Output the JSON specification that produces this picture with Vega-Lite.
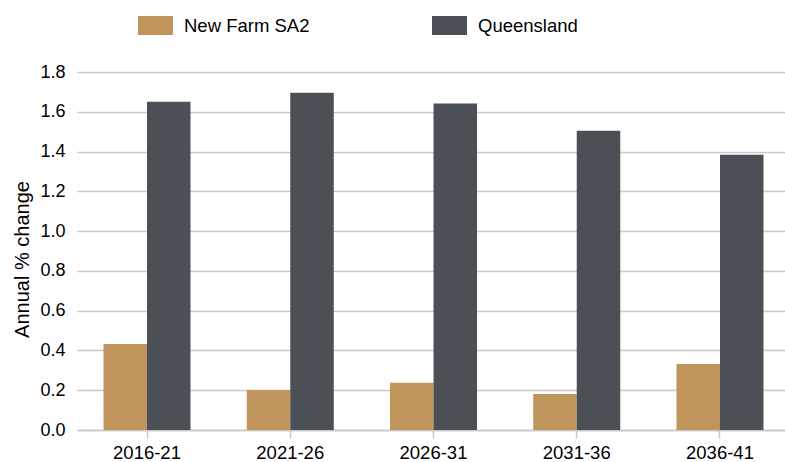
{
  "$schema": "https://vega.github.io/schema/vega-lite/v6.json",
  "autosize": "none",
  "padding": {"left": 77, "top": 72, "right": 0, "bottom": 32},
  "width": 713,
  "height": 358,
  "background": "white",
  "config": {
    "font": "Liberation Sans",
    "view": {"stroke": null}
  },
  "data": {
    "values": [
      {"period": "2016-21", "region": "New Farm SA2", "value": 0.433},
      {"period": "2016-21", "region": "Queensland", "value": 1.651},
      {"period": "2021-26", "region": "New Farm SA2", "value": 0.201},
      {"period": "2021-26", "region": "Queensland", "value": 1.696},
      {"period": "2026-31", "region": "New Farm SA2", "value": 0.237},
      {"period": "2026-31", "region": "Queensland", "value": 1.641},
      {"period": "2031-36", "region": "New Farm SA2", "value": 0.181},
      {"period": "2031-36", "region": "Queensland", "value": 1.505},
      {"period": "2036-41", "region": "New Farm SA2", "value": 0.332},
      {"period": "2036-41", "region": "Queensland", "value": 1.384}
    ]
  },
  "mark": {"type": "bar"},
  "encoding": {
    "x": {
      "field": "period",
      "type": "nominal",
      "sort": null,
      "scale": {"paddingInner": 0.3925, "paddingOuter": 0.185},
      "axis": {
        "title": null,
        "labelAngle": 0,
        "labelFontSize": 18.5,
        "labelColor": "#000000",
        "labelPadding": 5,
        "domainColor": "#C8C8C8",
        "domainWidth": 1.5,
        "tickColor": "#C8C8C8",
        "tickWidth": 1.5,
        "tickSize": 8,
        "grid": false
      }
    },
    "xOffset": {
      "field": "region",
      "type": "nominal",
      "scale": {"paddingInner": 0, "paddingOuter": 0}
    },
    "y": {
      "field": "value",
      "type": "quantitative",
      "scale": {"domain": [0, 1.8]},
      "axis": {
        "title": "Annual % change",
        "titleFontSize": 20,
        "titleFontWeight": "normal",
        "titleColor": "#000000",
        "titlePadding": 7,
        "titleY": 187,
        "values": [0, 0.2, 0.4, 0.6, 0.8, 1.0, 1.2, 1.4, 1.6, 1.8],
        "format": ".1f",
        "labelFontSize": 18,
        "labelColor": "#000000",
        "labelPadding": 12,
        "ticks": false,
        "domain": false,
        "grid": true,
        "gridColor": "#C8C8C8",
        "gridWidth": 1.5
      }
    },
    "color": {
      "field": "region",
      "type": "nominal",
      "scale": {"domain": ["New Farm SA2", "Queensland"], "range": ["#BF955C", "#4B4F56"]},
      "legend": {
        "title": null,
        "orient": "none",
        "legendX": 69,
        "legendY": -56,
        "direction": "horizontal",
        "padding": 0,
        "symbolType": "M-1.84,-1L1.84,-1L1.84,1L-1.84,1Z",
        "symbolSize": 361,
        "symbolStrokeWidth": 0,
        "symbolOpacity": 1,
        "labelFontSize": 18.5,
        "labelColor": "#000000",
        "labelOffset": 19,
        "columnPadding": 122
      }
    }
  }
}
